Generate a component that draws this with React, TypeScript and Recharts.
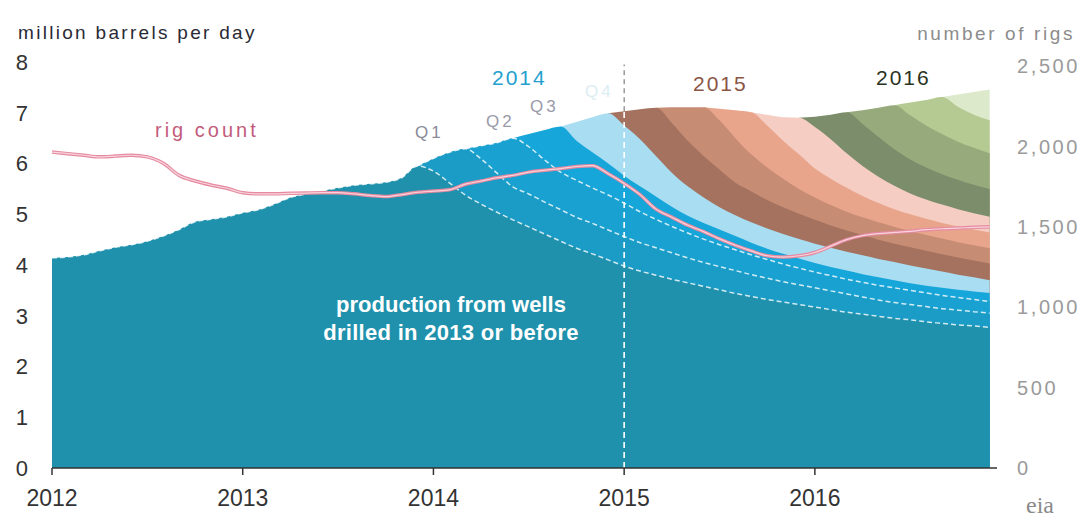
import React from 'react';
import { ComposedChart, Area, Line, XAxis, YAxis, ReferenceLine } from 'recharts';

// monthly points, Jan 2012 .. Dec 2016
const months: number[] = Array.from({ length: 60 }, (_, i) => 2012 + i / 12);
const yearTicks = [2012, 2013, 2014, 2015, 2016];
const leftTicks = [0, 1, 2, 3, 4, 5, 6, 7, 8];
const rightTicks = [0, 500, 1000, 1500, 2000, 2500];

const pad = (n: number, vals: number[]) => (Array(n).fill(null) as (number | null)[]).concat(vals);

// cumulative tops of each vintage layer (million barrels per day)
const base = [
  4.14, 4.16, 4.2, 4.28, 4.35, 4.4, 4.47, 4.57, 4.7, 4.85, 4.9, 4.95,
  5.03, 5.09, 5.2, 5.33, 5.4, 5.46, 5.52, 5.57, 5.6, 5.63, 5.72, 5.95,
  5.85, 5.62, 5.38, 5.2, 5.04, 4.89, 4.75, 4.61, 4.47, 4.33, 4.22, 4.1,
  3.98, 3.88, 3.8, 3.72, 3.65, 3.58, 3.51, 3.44, 3.38, 3.32, 3.27, 3.22,
  3.17, 3.12, 3.07, 3.03, 2.99, 2.95, 2.92, 2.88, 2.85, 2.82, 2.8, 2.77,
];
const q1_2014 = pad(23, [
  5.95, 6.1, 6.22, 6.29, 6.09, 5.81, 5.54, 5.4, 5.24, 5.09, 4.94, 4.82, 4.69,
  4.56, 4.44, 4.34, 4.24, 4.14, 4.05, 3.97, 3.89, 3.81, 3.74, 3.67, 3.61,
  3.55, 3.49, 3.43, 3.37, 3.31, 3.26, 3.22, 3.18, 3.14, 3.11, 3.08, 3.05,
]);
const q2_2014 = pad(26, [
  6.29, 6.35, 6.41, 6.5, 6.33, 6.07, 5.83, 5.67, 5.52, 5.38,
  5.22, 5.05, 4.9, 4.76, 4.63, 4.51, 4.4, 4.3, 4.2, 4.11, 4.02, 3.94,
  3.86, 3.79, 3.72, 3.66, 3.6, 3.55, 3.5, 3.45, 3.4, 3.36, 3.32, 3.28,
]);
const q3_2014 = pad(29, [
  6.5, 6.58, 6.66, 6.73, 6.45, 6.22, 6.0,
  5.76, 5.55, 5.35, 5.15, 4.97, 4.83, 4.7, 4.57, 4.44, 4.32, 4.22, 4.13,
  4.04, 3.96, 3.89, 3.82, 3.76, 3.7, 3.64, 3.59, 3.55, 3.51, 3.48, 3.45,
]);
const q4_2014 = pad(32, [
  6.73, 6.82, 6.91, 6.99,
  6.75, 6.48, 6.15, 5.82, 5.55, 5.33, 5.14, 4.98, 4.84, 4.72, 4.61, 4.51,
  4.42, 4.34, 4.26, 4.19, 4.12, 4.06, 3.99, 3.93, 3.87, 3.81, 3.76, 3.7,
]);
const q1_2015 = pad(35, [
  6.99,
  7.03, 7.07, 7.1, 6.8, 6.45, 6.15, 5.88, 5.62, 5.45, 5.28, 5.14, 5.01,
  4.89, 4.78, 4.68, 4.59, 4.5, 4.42, 4.35, 4.28, 4.21, 4.15, 4.09, 4.03,
]);
const q2_2015 = pad(38, [
  7.1, 7.11, 7.11, 7.11, 6.85, 6.5, 6.18, 5.92, 5.7, 5.5,
  5.33, 5.18, 5.05, 4.94, 4.84, 4.75, 4.67, 4.59, 4.52, 4.45, 4.39, 4.33,
]);
const q3_2015 = pad(41, [
  7.11, 7.08, 7.05, 7.01, 6.75, 6.45, 6.18,
  5.9, 5.7, 5.52, 5.36, 5.22, 5.1, 5.0, 4.91, 4.83, 4.76, 4.7, 4.64,
]);
const q4_2015 = pad(44, [
  7.01, 6.96, 6.91, 6.9,
  6.72, 6.48, 6.2, 5.95, 5.74, 5.56, 5.41, 5.29, 5.19, 5.1, 5.02, 4.95,
]);
const q1_2016 = pad(47, [6.9, 6.92, 6.96, 7.01, 6.78, 6.52, 6.28, 6.08, 5.92, 5.79, 5.68, 5.58, 5.5]);
const q2_2016 = pad(50, [7.01, 7.05, 7.1, 7.15, 6.95, 6.75, 6.58, 6.43, 6.31, 6.2]);
const q3_2016 = pad(53, [7.15, 7.2, 7.25, 7.31, 7.12, 6.96, 6.85]);
const q4_2016 = pad(56, [7.31, 7.36, 7.41, 7.46]);

// rig count (number of rigs)
const rigs = [
  1965, 1955, 1945, 1935, 1940, 1945, 1935, 1895, 1820, 1785, 1760, 1740,
  1712, 1705, 1705, 1708, 1710, 1712, 1712, 1705, 1695, 1688, 1700, 1715,
  1722, 1730, 1765, 1785, 1805, 1820, 1840, 1852, 1862, 1875, 1880, 1830,
  1770, 1700, 1610, 1560, 1510, 1470, 1425, 1385, 1350, 1320, 1312, 1320,
  1340, 1380, 1420, 1445, 1458, 1465, 1472, 1482, 1488, 1492, 1497, 1500,
];

const layers: { key: string; vals: (number | null)[]; color: string; dashed?: boolean }[] = [
  { key: 'q4_2016', vals: q4_2016, color: '#DDE9CB' },
  { key: 'q3_2016', vals: q3_2016, color: '#B5CA92' },
  { key: 'q2_2016', vals: q2_2016, color: '#97AA7C' },
  { key: 'q1_2016', vals: q1_2016, color: '#7B8D6B' },
  { key: 'q4_2015', vals: q4_2015, color: '#F5CDC3' },
  { key: 'q3_2015', vals: q3_2015, color: '#E8A58C' },
  { key: 'q2_2015', vals: q2_2015, color: '#C78C74' },
  { key: 'q1_2015', vals: q1_2015, color: '#A4725F' },
  { key: 'q4_2014', vals: q4_2014, color: '#A9DDF1' },
  { key: 'q3_2014', vals: q3_2014, color: '#17A6DA' },
  { key: 'q2_2014', vals: q2_2014, color: '#19A1D1', dashed: true },
  { key: 'q1_2014', vals: q1_2014, color: '#1A9CC7', dashed: true },
  { key: 'base', vals: base, color: '#1F91AC', dashed: true },
];

const data = months.map((t, i) => {
  const row: Record<string, number | null> = { t, rigs: rigs[i] };
  layers.forEach((l) => {
    row[l.key] = l.vals[i];
  });
  return row;
});

const split2015 = q1_2015[36] as number;

const FONT = '"Liberation Sans", Arial, sans-serif';

export default function App() {
  return (
    <div style={{ position: 'absolute', left: 0, top: 0, width: 1089, height: 517, background: '#fff' }}>
      <ComposedChart width={1089} height={517} data={data} margin={{ top: 62, right: 0, bottom: 0, left: 0 }}>
        <XAxis
          dataKey="t"
          type="number"
          domain={[2012, 2016.955]}
          ticks={yearTicks}
          interval={0}
          height={49}
          tickSize={7}
          tickMargin={15}
          axisLine={{ stroke: '#333', strokeWidth: 1.5 }}
          tickLine={{ stroke: '#333', strokeWidth: 1.5 }}
          tick={{ fill: '#333', fontSize: 23, fontFamily: FONT }}
          tickFormatter={(v: number) => String(Math.round(v))}
        />
        <YAxis
          yAxisId="left"
          domain={[0, 8]}
          ticks={leftTicks}
          width={52}
          axisLine={false}
          tickLine={false}
          tickSize={0}
          tickMargin={24}
          tick={{ fill: '#333', fontSize: 22, fontFamily: FONT }}
        />
        <YAxis
          yAxisId="right"
          orientation="right"
          domain={[0, 2525]}
          ticks={rightTicks}
          width={92}
          axisLine={false}
          tickLine={false}
          tickSize={0}
          tickMargin={20}
          tick={{ fill: '#9A9A9A', fontSize: 20, fontFamily: FONT, letterSpacing: 2.6 }}
          tickFormatter={(v: number) => v.toLocaleString('en-US')}
        />
        {layers.map((l) => (
          <Area
            key={l.key}
            yAxisId="left"
            type="monotone"
            dataKey={l.key}
            fill={l.color}
            fillOpacity={1}
            stroke={l.dashed ? '#FFFFFF' : 'none'}
            strokeWidth={l.dashed ? 1.5 : 0}
            strokeDasharray={l.dashed ? '5 3' : undefined}
            strokeOpacity={0.8}
            dot={false}
            activeDot={false}
            isAnimationActive={false}
          />
        ))}
        <ReferenceLine
          yAxisId="left"
          segment={[{ x: 2015, y: 0 }, { x: 2015, y: split2015 }]}
          stroke="#FFFFFF"
          strokeWidth={1.6}
          strokeDasharray="6 4"
        />
        <ReferenceLine
          yAxisId="left"
          segment={[{ x: 2015, y: split2015 }, { x: 2015, y: 7.95 }]}
          stroke="#666"
          strokeWidth={1}
          strokeDasharray="5 4"
        />
        <Line
          yAxisId="right"
          type="monotone"
          dataKey="rigs"
          stroke="#E58BA1"
          strokeWidth={3.5}
          dot={false}
          activeDot={false}
          isAnimationActive={false}
        />
        <Line
          yAxisId="right"
          type="monotone"
          dataKey="rigs"
          stroke="#F8D3DB"
          strokeWidth={1.2}
          dot={false}
          activeDot={false}
          isAnimationActive={false}
        />
      </ComposedChart>
      <svg
        width={1089}
        height={517}
        style={{ position: 'absolute', left: 0, top: 0, pointerEvents: 'none' }}
        fontFamily={FONT}
      >
        <text x={18} y={39} fontSize={19} fill="#2A2A35" letterSpacing={2.3}>million barrels  per day</text>
        <text x={1075} y={40} fontSize={19} fill="#8C8C8C" textAnchor="end" letterSpacing={2.6}>number of rigs</text>
        <text x={155} y={137} fontSize={20} fill="#C35C7C" letterSpacing={3}>rig count</text>
        <text x={492} y={85} fontSize={21} fill="#239FD0" letterSpacing={2}>2014</text>
        <text x={415} y={138} fontSize={17} fill="#8A8A99" letterSpacing={3}>Q1</text>
        <text x={486} y={127} fontSize={17} fill="#9A9AAA" letterSpacing={3}>Q2</text>
        <text x={530} y={112} fontSize={17} fill="#9A9AAA" letterSpacing={3}>Q3</text>
        <text x={585} y={97} fontSize={17} fill="#DCEDF3" letterSpacing={3}>Q4</text>
        <text x={693} y={91} fontSize={21} fill="#8A5545" letterSpacing={2}>2015</text>
        <text x={876} y={85} fontSize={21} fill="#2A3322" letterSpacing={2}>2016</text>
        <text x={451} y={312} fontSize={22} fontWeight="bold" fill="#FFFFFF" textAnchor="middle">production from wells</text>
        <text x={451} y={340} fontSize={22} fontWeight="bold" fill="#FFFFFF" textAnchor="middle" letterSpacing={0.3}>drilled in 2013  or before</text>
        <text x={1040} y={513} fontSize={24} fill="#8A8A8A" textAnchor="middle" fontFamily="'Liberation Serif', serif">eia</text>
      </svg>
    </div>
  );
}
